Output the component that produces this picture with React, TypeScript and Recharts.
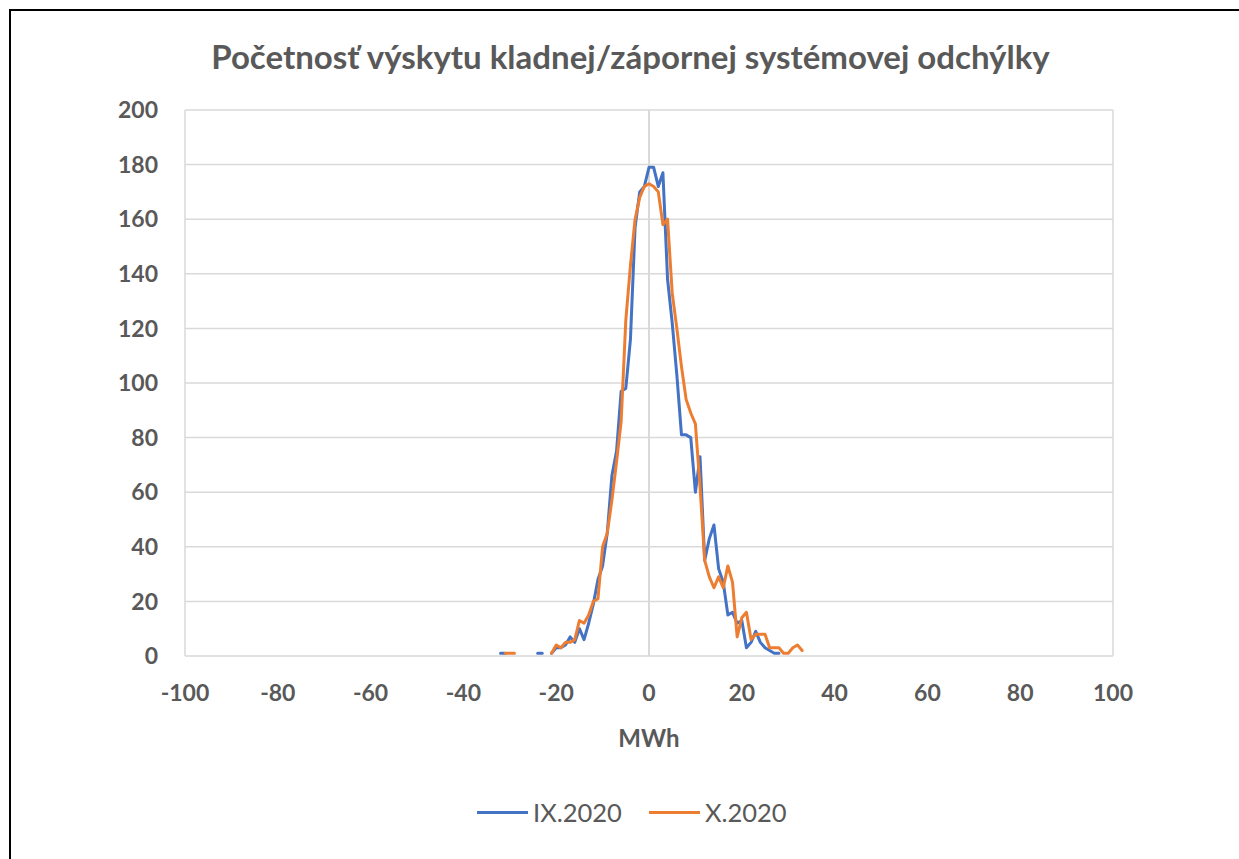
import { LineChart, Line, XAxis, YAxis, CartesianGrid, ReferenceLine, Label } from "recharts";

const mwh = [
  -32, -31, -30, -29, -28, -27, -26, -25, -24, -23, -22, -21, -20, -19, -18, -17, -16, -15, -14, -13, -12, -11,
  -10, -9, -8, -7, -6, -5, -4, -3, -2, -1, 0, 1, 2, 3, 4, 5, 6, 7, 8, 9, 10, 11, 12, 13, 14, 15, 16, 17, 18, 19,
  20, 21, 22, 23, 24, 25, 26, 27, 28, 29, 30, 31, 32, 33,
];

// IX.2020 (blue)
const sep2020 = [
  1, 1, null, null, null, null, null, null, 1, 1, null, 1, 3, 3, 4, 7, 5, 10, 6, 12, 19, 28,
  33, 45, 66, 75, 97, 98, 116, 157, 170, 172, 179, 179, 172, 177, 138, 122, 103, 81, 81, 80, 60, 73, 35, 43, 48, 32, 27, 15, 16, 12,
  13, 3, 5, 9, 5, 3, 2, 1, 1, null, null, null, null, null,
];

// X.2020 (orange)
const oct2020 = [
  null, 1, 1, 1, null, null, null, null, null, null, null, 1, 4, 3, 5, 5, 6, 13, 12, 15, 20, 21,
  40, 45, 57, 71, 86, 123, 143, 160, 168, 172, 173, 172, 170, 158, 160, 133, 120, 106, 94, 89, 85, 62, 35, 29, 25, 29, 25, 33, 27, 7,
  14, 16, 6, 8, 8, 8, 3, 3, 3, 1, 1, 3, 4, 2,
];

const xTicks = [-100, -80, -60, -40, -20, 0, 20, 40, 60, 80, 100];
const yTicks = [0, 20, 40, 60, 80, 100, 120, 140, 160, 180, 200];

const seriesNames = ["IX.2020", "X.2020"];
const seriesColors = ["#4472C4", "#ED7D31"];

const data = mwh.map((x, i) => ({ x, sep: sep2020[i], oct: oct2020[i] }));

const font = "Lato, 'Open Sans', sans-serif";
const textGray = "#595959";
const tickStyle = { fill: textGray, fontSize: 23, fontWeight: 700, fontFamily: font };

export default function App() {
  return (
    <div style={{ position: "absolute", left: 0, top: 0, width: 1239, height: 859, background: "#fff", overflow: "hidden" }}>
      <div
        style={{
          position: "absolute",
          left: 9,
          top: 9,
          width: 1240,
          height: 860,
          borderLeft: "2px solid #000",
          borderTop: "2px solid #000",
        }}
      />
      <div
        style={{
          position: "absolute",
          left: 0,
          top: 36,
          width: 1239,
          paddingLeft: 22,
          boxSizing: "border-box",
          textAlign: "center",
          fontFamily: font,
          fontWeight: 700,
          fontSize: 33,
          color: textGray,
          whiteSpace: "nowrap",
        }}
      >
        Početnosť výskytu kladnej/zápornej systémovej odchýlky
      </div>
      <div style={{ position: "absolute", left: 0, top: 0 }}>
        <LineChart width={1239} height={859} data={data} margin={{ top: 110, right: 126, bottom: 0, left: 0 }}>
          <CartesianGrid horizontal vertical={false} stroke="#d9d9d9" strokeWidth={1.5} />
          <ReferenceLine x={-100} stroke="#d9d9d9" strokeWidth={1.5} />
          <ReferenceLine x={0} stroke="#d9d9d9" strokeWidth={2} />
          <ReferenceLine x={100} stroke="#d9d9d9" strokeWidth={1.5} />
          <XAxis
            dataKey="x"
            type="number"
            domain={[-100, 100]}
            ticks={xTicks}
            height={203}
            axisLine={false}
            tickLine={false}
            tickSize={0}
            tickMargin={29}
            tick={tickStyle}
          >
            <Label value="MWh" position="insideTop" offset={74} style={{ ...tickStyle, fontSize: 24 }} />
          </XAxis>
          <YAxis
            type="number"
            domain={[0, 200]}
            ticks={yTicks}
            width={185}
            axisLine={false}
            tickLine={false}
            tickSize={0}
            tickMargin={27}
            tick={tickStyle}
          />
          <Line
            dataKey="sep"
            name={seriesNames[0]}
            stroke={seriesColors[0]}
            strokeWidth={3}
            dot={false}
            activeDot={false}
            connectNulls={false}
            strokeLinejoin="round"
            strokeLinecap="round"
            isAnimationActive={false}
          />
          <Line
            dataKey="oct"
            name={seriesNames[1]}
            stroke={seriesColors[1]}
            strokeWidth={3}
            dot={false}
            activeDot={false}
            connectNulls={false}
            strokeLinejoin="round"
            strokeLinecap="round"
            isAnimationActive={false}
          />
        </LineChart>
      </div>
      <div
        style={{
          position: "absolute",
          left: 477,
          top: 797,
          display: "flex",
          alignItems: "center",
          fontFamily: font,
          fontSize: 25.5,
          color: textGray,
          whiteSpace: "nowrap",
        }}
      >
        {seriesNames.map((name, i) => (
          <div key={name} style={{ display: "flex", alignItems: "center", marginRight: i === 0 ? 27 : 0 }}>
            <div style={{ width: 51, height: 3, flexShrink: 0, background: seriesColors[i], marginRight: 5 }} />
            <span>{name}</span>
          </div>
        ))}
      </div>
    </div>
  );
}
